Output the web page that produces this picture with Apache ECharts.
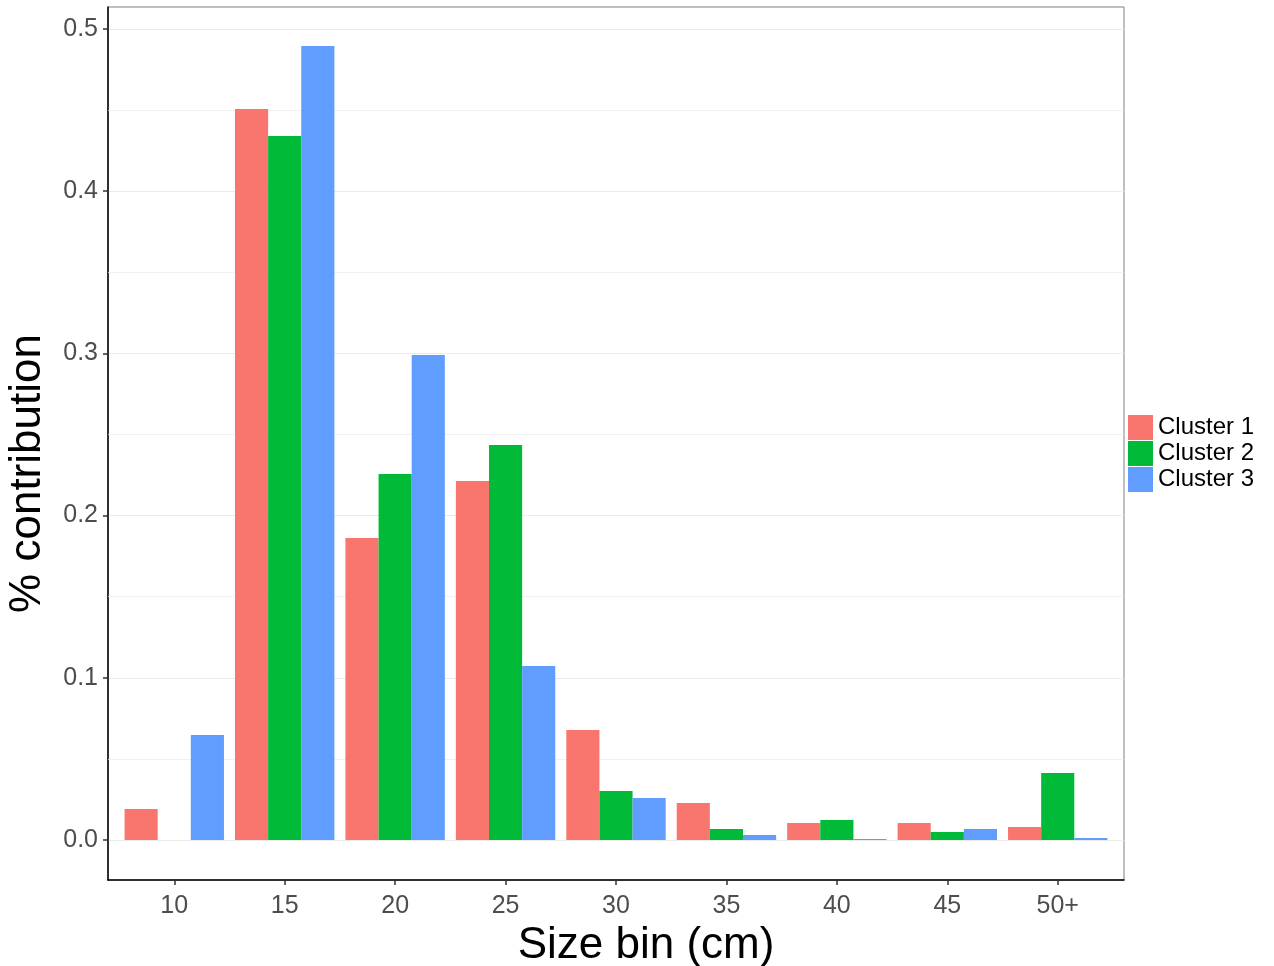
<!DOCTYPE html>
<html>
<head>
<meta charset="utf-8">
<script src="https://cdn.jsdelivr.net/npm/echarts@6/dist/echarts.min.js"></script>
<style>html,body{margin:0;padding:0;background:#fff;overflow:hidden}#c{width:1274px;height:966px}</style>
</head>
<body>
<div id="c"></div>
<script>
const categories = ['10', '15', '20', '25', '30', '35', '40', '45', '50+'];
const seriesNames = ['Cluster 1', 'Cluster 2', 'Cluster 3'];
const cluster1 = [0.0191, 0.4507, 0.1862, 0.2213, 0.0678, 0.0228, 0.0105, 0.0105, 0.0080];
const cluster2 = [0, 0.4340, 0.2256, 0.2435, 0.0302, 0.0068, 0.0123, 0.0049, 0.0413];
const cluster3 = [0.0647, 0.4895, 0.2990, 0.1073, 0.0259, 0.0031, 0.0006, 0.0068, 0.0012];
const yTicks = [0, 0.1, 0.2, 0.3, 0.4, 0.5];
const yMinorTicks = [0.05, 0.15, 0.25, 0.35, 0.45];
const colors = ['#F8766D', '#00BA38', '#619CFF'];

const seriesValues = [cluster1, cluster2, cluster3];
const xIdx = categories.map((c, i) => i);

const chart = echarts.init(document.getElementById('c'), null, {renderer: 'canvas'});
const FONT = 'Liberation Sans, Arial, sans-serif';
chart.setOption({
  animation: false,
  backgroundColor: '#fff',
  color: colors,
  grid: {
    left: 108, right: 150, top: 7, bottom: 86,
    outerBoundsMode: 'none',
    containLabel: false,
    show: true, borderColor: '#7f7f7f', borderWidth: 1, backgroundColor: 'transparent'
  },
  legend: {
    orient: 'vertical', left: 1128, top: 415, padding: 0,
    itemWidth: 25, itemHeight: 25, itemGap: 1,
    icon: 'rect',
    textStyle: {fontFamily: FONT, fontSize: 24, color: '#000'},
    data: seriesNames
  },
  xAxis: {
    type: 'value', min: -0.6, max: 8.6,
    name: 'Size bin (cm)', nameLocation: 'middle', nameGap: 43,
    nameTextStyle: {fontFamily: FONT, fontSize: 44, color: '#000', padding: [0, 0, 0, 60]},
    axisLine: {show: true, onZero: false, lineStyle: {color: '#000', width: 1.5}},
    axisTick: {show: true, customValues: xIdx, length: 5, lineStyle: {color: '#333', width: 1.5}},
    axisLabel: {customValues: xIdx, fontFamily: FONT, fontSize: 25, color: '#4d4d4d', margin: 14,
      formatter: v => categories[Math.round(v)]},
    splitLine: {show: false}
  },
  yAxis: {
    type: 'value', min: -0.0247, max: 0.5136,
    name: '% contribution', nameLocation: 'middle', nameGap: 58,
    nameTextStyle: {fontFamily: FONT, fontSize: 44, color: '#000', padding: [0, 60, 0, 0]},
    axisLine: {show: true, onZero: false, lineStyle: {color: '#000', width: 1.5}},
    axisTick: {show: true, customValues: yTicks, length: 5, lineStyle: {color: '#333', width: 1.5}},
    axisLabel: {customValues: yTicks, fontFamily: FONT, fontSize: 25, color: '#4d4d4d', margin: 10,
      formatter: v => v.toFixed(1)},
    splitLine: {show: true, lineStyle: {color: '#ebebeb', width: 1.2}},
    minorSplitLine: {show: false}
  },
  series: seriesNames.map((name, s) => {
    const ser = {
      name: name,
      type: 'bar',
      barWidth: '30%',
      barGap: '0%',
      data: xIdx.map(i => [i, seriesValues[s][i]]),
      itemStyle: {color: colors[s]}
    };
    if (s === 0) {
      ser.markLine = {
        silent: true, z: 1, symbol: ['none', 'none'],
        label: {show: false},
        lineStyle: {color: '#ebebeb', width: 0.7, type: 'solid'},
        emphasis: {disabled: true},
        data: yMinorTicks.map(v => ({yAxis: v}))
      };
    }
    return ser;
  })
});
</script>
</body>
</html>
